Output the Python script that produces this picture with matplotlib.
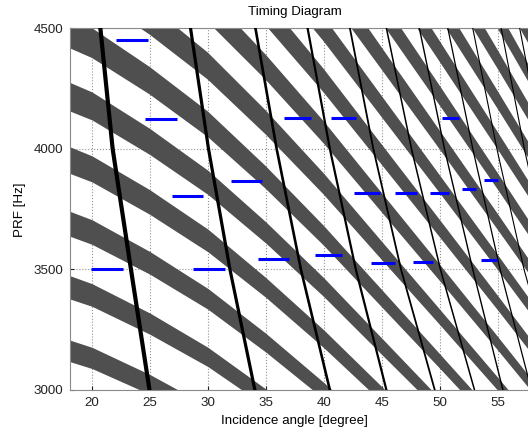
import numpy as np
import matplotlib
matplotlib.use("Agg")
import matplotlib.pyplot as plt

plt.rcParams['font.family'] = ['Liberation Sans', 'DejaVu Sans']

# incidence angles where the band edges were sampled [degree]
band_angle = [17, 20, 25, 30, 35, 40, 45, 50, 55, 58]

# transmit-blocking bands: centre PRF [Hz] per sampled angle (one row per band)
band_mid = [
    [3179, 3133, 3023, 2896, 2740, 2569, 2386, 2202, 2017, 1904],
    [3444, 3394, 3275, 3137, 2968, 2783, 2584, 2386, 2185, 2063],
    [3709, 3655, 3527, 3378, 3196, 2997, 2783, 2569, 2353, 2222],
    [3974, 3917, 3779, 3620, 3425, 3212, 2982, 2753, 2522, 2381],
    [4238, 4178, 4030, 3861, 3653, 3426, 3181, 2936, 2690, 2539],
    [4503, 4439, 4282, 4102, 3881, 3640, 3380, 3120, 2858, 2698],
    [4768, 4700, 4534, 4343, 4109, 3854, 3578, 3303, 3026, 2857],
    [5033, 4961, 4786, 4585, 4338, 4068, 3777, 3487, 3194, 3015],
    [5298, 5222, 5038, 4826, 4566, 4282, 3976, 3670, 3362, 3174],
    [5563, 5483, 5290, 5067, 4794, 4496, 4175, 3854, 3530, 3333],
    [5828, 5744, 5542, 5309, 5023, 4710, 4374, 4037, 3698, 3491],
    [6093, 6005, 5794, 5550, 5251, 4924, 4572, 4221, 3866, 3650],
    [6358, 6266, 6046, 5791, 5479, 5138, 4771, 4404, 4034, 3809],
    [6623, 6528, 6298, 6033, 5708, 5353, 4970, 4588, 4203, 3968],
    [6887, 6789, 6549, 6274, 5936, 5567, 5169, 4771, 4371, 4126],
    [7152, 7050, 6801, 6515, 6164, 5781, 5368, 4955, 4539, 4285],
    [7417, 7311, 7053, 6756, 6392, 5995, 5566, 5138, 4707, 4444],
]

# half thickness of each band [Hz]
band_half = [
    [45, 44, 41, 37, 33, 29, 25, 21, 18, 16],
    [49, 47, 44, 40, 36, 32, 27, 23, 19, 17],
    [52, 51, 47, 43, 39, 34, 30, 25, 21, 19],
    [56, 54, 51, 47, 41, 37, 32, 27, 22, 20],
    [60, 58, 54, 50, 44, 39, 34, 28, 24, 21],
    [63, 62, 57, 53, 47, 41, 36, 30, 25, 23],
    [67, 65, 61, 56, 50, 44, 38, 32, 27, 24],
    [71, 69, 64, 59, 52, 46, 40, 34, 28, 25],
    [75, 73, 68, 62, 55, 49, 42, 36, 30, 27],
    [78, 76, 71, 65, 58, 51, 44, 37, 31, 28],
    [82, 80, 74, 68, 61, 54, 46, 39, 33, 29],
    [86, 83, 78, 71, 64, 56, 48, 41, 34, 31],
    [90, 87, 81, 74, 66, 59, 51, 43, 36, 32],
    [93, 91, 84, 78, 69, 61, 53, 45, 37, 33],
    [97, 94, 88, 81, 72, 63, 55, 46, 39, 35],
    [101, 98, 91, 84, 75, 66, 57, 48, 40, 36],
    [105, 102, 95, 87, 77, 68, 59, 50, 42, 37],
]

# nadir echo lines: incidence angle [degree] at each PRF level
nadir_prf = [4500, 4000, 3500, 3000]
nadir_angle = [
    [20.72, 21.78, 23.36, 24.96],
    [28.50, 30.05, 31.90, 34.05],
    [34.10, 35.93, 38.02, 40.52],
    [38.60, 40.52, 42.76, 45.40],
    [42.25, 44.27, 46.66, 49.57],
    [45.40, 47.56, 50.06, 53.00],
    [48.24, 50.41, 52.85, 55.45],
    [50.70, 52.85, 55.21, 57.91],
    [52.85, 54.93, 57.27, 60.20],
    [55.30, 57.30, 59.60, 62.50],
    [56.90, 58.90, 61.30, 64.00],
]
nadir_width = [3.0, 2.3, 1.9, 1.6, 1.3, 1.1, 1.0, 0.9, 0.8, 0.8, 0.8]

# selected PRF per beam
blue_prf = [4450, 4125, 4130, 4130, 4128, 3866, 3803, 3815, 3818, 3818,
            3833, 3869, 3500, 3500, 3543, 3558, 3528, 3532, 3539]
blue_start = [22.1, 24.6, 36.6, 40.6, 50.2, 32.0, 26.9, 42.6, 46.1, 49.2,
              51.9, 53.8, 19.9, 28.7, 34.3, 39.2, 44.05, 47.7, 53.6]
blue_end = [24.85, 27.35, 38.85, 42.75, 51.65, 34.7, 29.6, 44.85, 48.0, 50.8,
            53.15, 55.0, 22.65, 31.45, 37.0, 41.55, 46.1, 49.4, 54.9]

fig = plt.figure(figsize=(5.28, 4.32), dpi=100)
ax = fig.add_axes([70/528, 1-390/432, 459/528, 361.7/432])

ang = np.array(band_angle)
for mid, half in zip(band_mid, band_half):
    mid = np.array(mid)
    half = np.array(half)
    ax.fill_between(ang, mid - half, mid + half, color='#4f4f4f', lw=0, zorder=2)

for xs, w in zip(nadir_angle, nadir_width):
    ax.plot(xs, nadir_prf, color='black', lw=w, zorder=3)

ax.hlines(blue_prf, blue_start, blue_end, colors='#0000ff', lw=2.2, zorder=4)

ax.set_xlim(18.1, 57.7)
ax.set_ylim(3000, 4500)
ax.set_xticks([20, 25, 30, 35, 40, 45, 50, 55])
ax.set_yticks([3000, 3500, 4000, 4500])
ax.set_axisbelow(True)
ax.grid(True, linestyle=':', color='#909090', lw=0.8)
ax.tick_params(direction='in', length=3, labelsize=9.6, pad=5, colors='#222222')
for s in ax.spines.values():
    s.set_color('#8a8a8a')

fig.text(295/528, 1-12/432, 'Timing Diagram', ha='center', va='center', fontsize=9.6)
fig.text(294/528, 1-421/432, 'Incidence angle [degree]', ha='center', va='center', fontsize=9.6)
fig.text(20/528, 1-210/432, 'PRF [Hz]', ha='center', va='center', rotation=90, fontsize=9.6)

fig.savefig('out.png', dpi=100)
